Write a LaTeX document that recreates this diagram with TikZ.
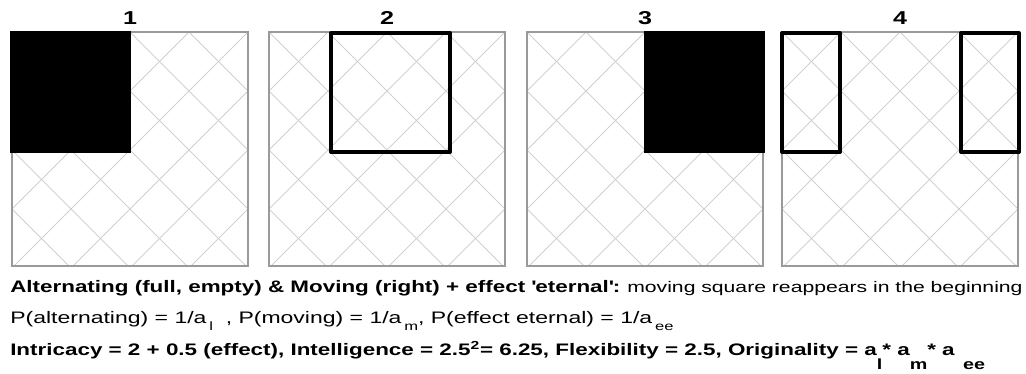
\documentclass[tikz,border=0pt]{standalone}
\usepackage{fontspec}
\setmainfont{Liberation Sans}[FakeStretch=1.38,BoldFeatures={FakeStretch=1.345}]
\definecolor{hatchgray}{HTML}{D0D0D0}
\definecolor{framegray}{HTML}{9A9A9A}
\usetikzlibrary{positioning}
\newcommand{\lowsub}[3]{\raisebox{-#1}{\fontsize{#2}{#2}\selectfont #3}}

\begin{document}
\begin{tikzpicture}[x=0.75pt,y=-0.75pt,
    frame/.style={draw=framegray,line width=0.9pt},
    hatch/.style={draw=hatchgray,line width=0.6pt},
    fullsq/.style={fill=black,draw=black,line width=3pt},
    emptysq/.style={draw=black,line width=3pt,line join=round},
    stepnum/.style={font=\bfseries\fontsize{14pt}{16pt}\selectfont,anchor=base,inner sep=0pt},
    caption/.style={anchor=base west,inner sep=0pt,font=\fontsize{12.5pt}{15pt}\selectfont}]
    \useasboundingbox (0,0) rectangle (1026,374);
    % frames with cross hatch
    \foreach \x/\n in {12/1,269/2,527/3,782/4}{
        \begin{scope}
            \clip (\x,32) rectangle ++(236,234);
            \foreach \k in {-4,...,8}
                \draw[hatch] (\x+\k*59,32) -- ++(236,236) (\x+\k*59,32) -- ++(-236,236);
        \end{scope}
        \draw[frame] (\x,32) rectangle ++(236,234);
        \node[stepnum] (num\n) at (\x+118,25) {\n};
    }
    % the square in each step
    \draw[fullsq] (12,33) rectangle (129,151);
    \draw[emptysq] (331,33) rectangle (450,152);
    \draw[fullsq] (646,33) rectangle (763,151);
    \draw[emptysq] (782,33) rectangle (840,152);
    \draw[emptysq] (961,33) rectangle (1019,152);
    % text below
    \node[caption] (rule) at (10,293) {\bfseries Alternating (full, empty) \& Moving (right) + effect \textquotesingle eternal\textquotesingle:\hspace{-1pt} {\mdseries\fontsize{11.5pt}{13pt}\selectfont moving square reappears in the beginning}};
    \node[caption] (prob) at (10,324) {P(alternating) = 1/a\,\lowsub{5pt}{9pt}{l}\ \ , P(moving) = 1/a\,\lowsub{5pt}{9pt}{m}, P(effect eternal) = 1/a\,\lowsub{5pt}{9pt}{ee}};
    \node[caption] (score) at (10,355) {\bfseries Intricacy = 2 + 0.5 (effect), Intelligence = 2.5\textsuperscript{2}= 6.25, Flexibility = 2.5, Originality = a\lowsub{11pt}{11pt}{l}* a\lowsub{11pt}{11pt}{m}* a\,\,\,\lowsub{11pt}{11pt}{ee}};
\end{tikzpicture}
\end{document}
